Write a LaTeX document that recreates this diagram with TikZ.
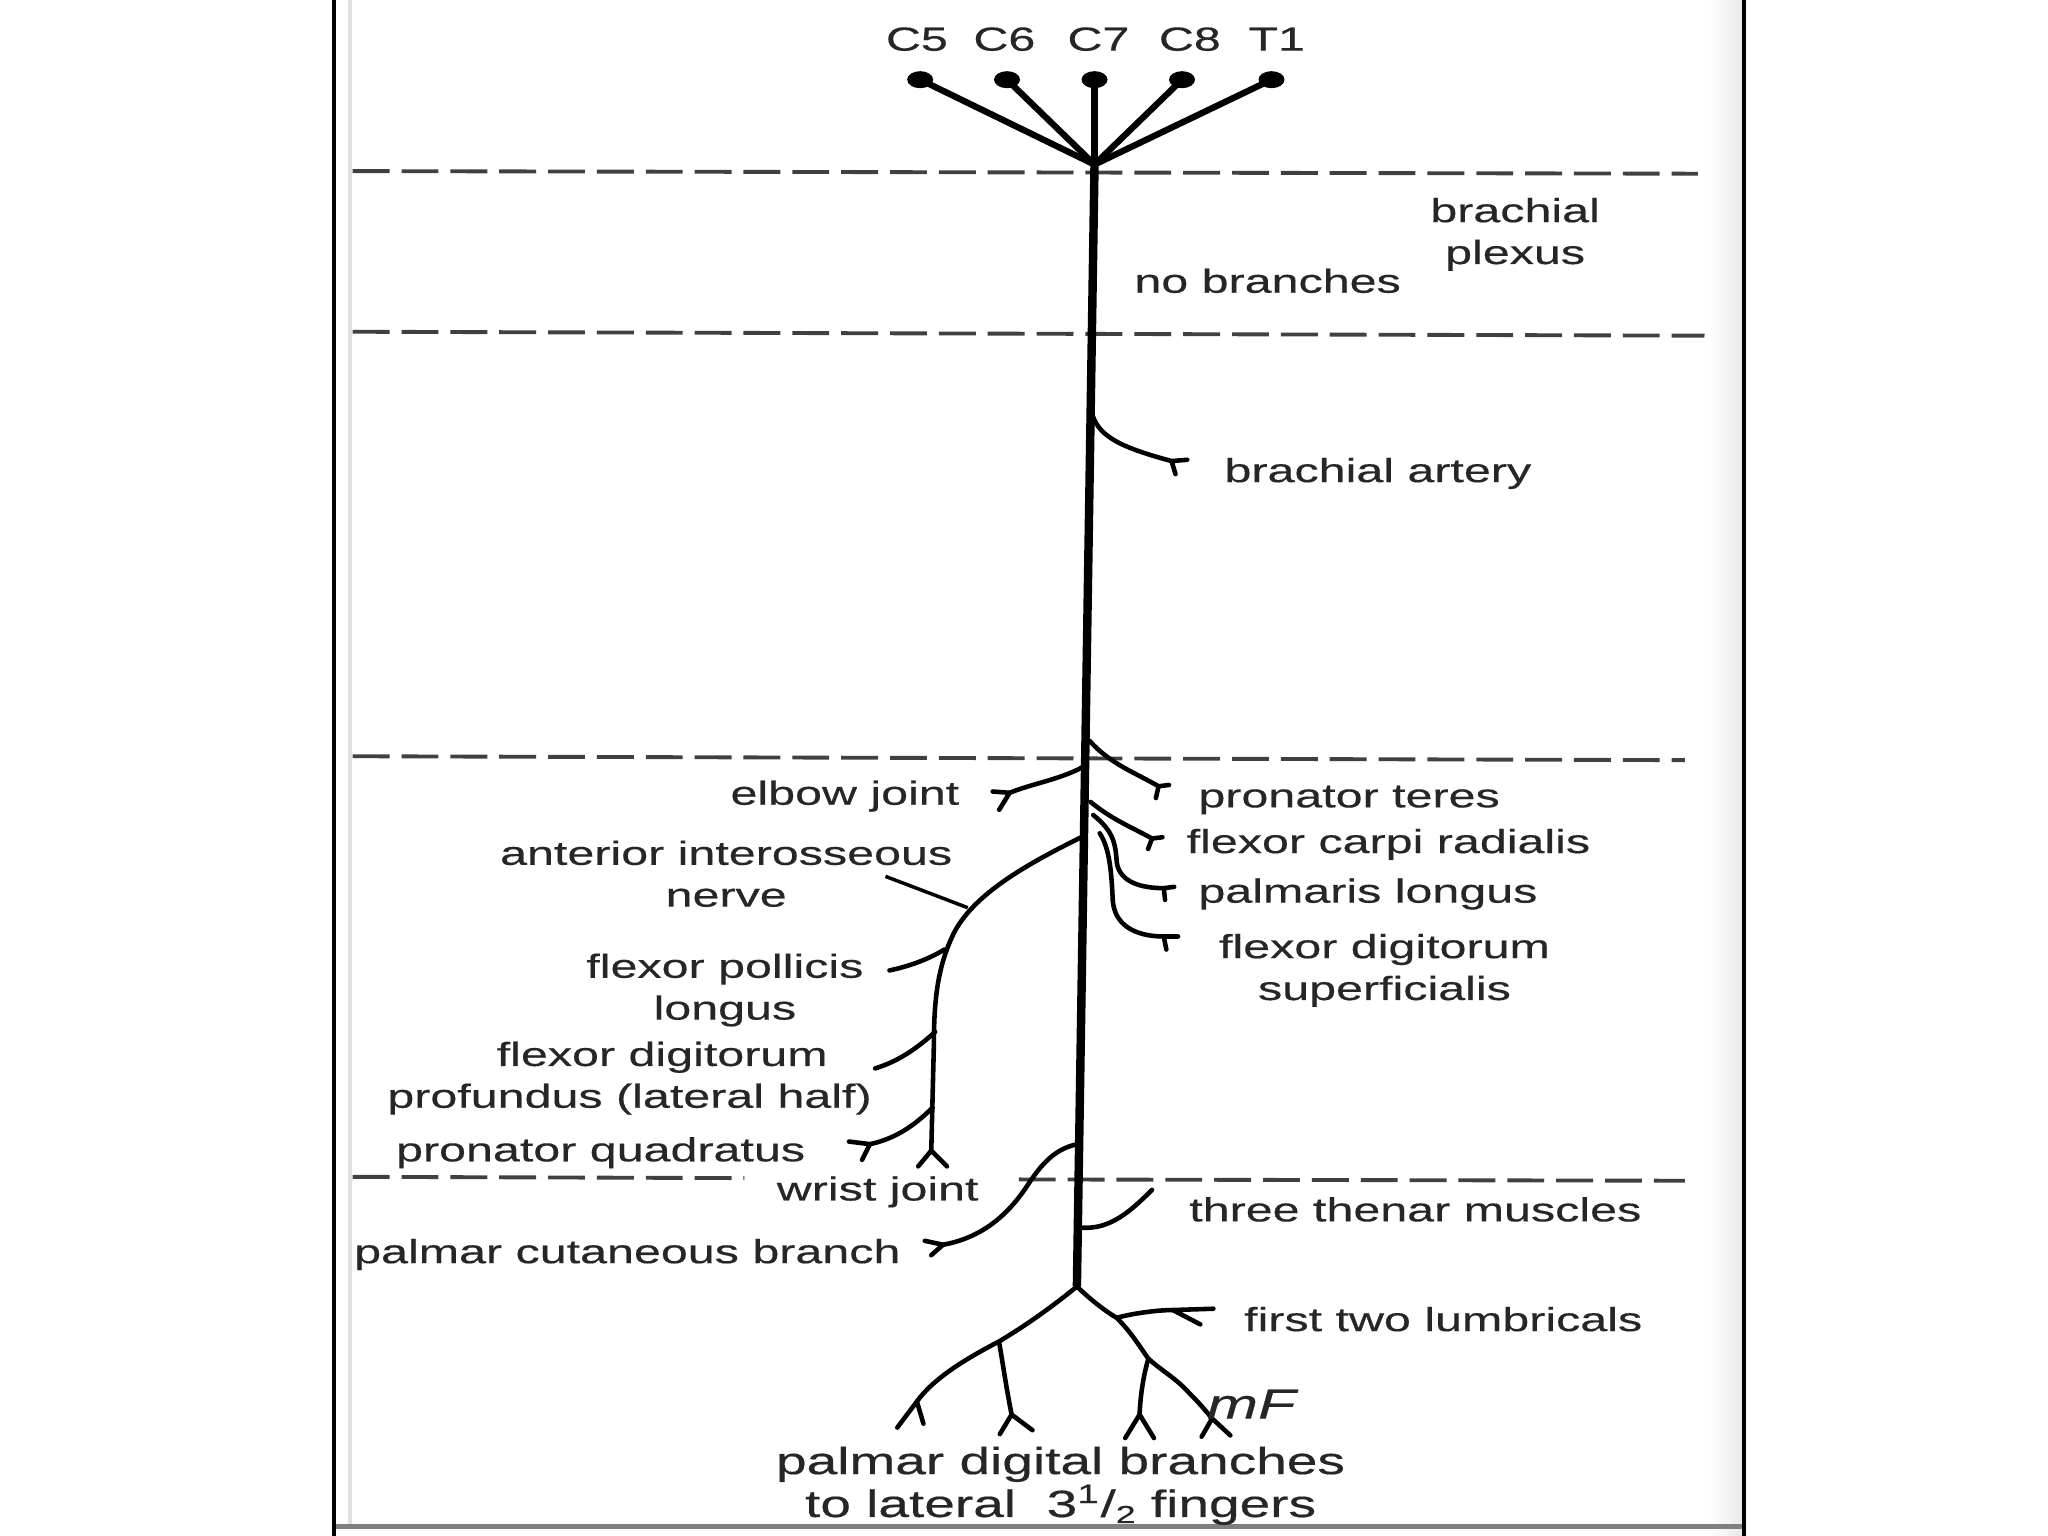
\documentclass[tikz,border=0pt]{standalone}
\usepackage{fontspec}
\setmainfont{Liberation Sans}[FakeStretch=1.45,FakeBold=0.4]
\tikzset{
  trunk/.style={line width=2.4pt},
  root/.style={line width=1.8pt},
  branch/.style={line width=1.3pt,line cap=round,line join=round},
  level/.style={draw=black!75,line width=1.1pt,dash pattern=on 10.5pt off 3.4pt},
  lbl/.style={font=\fontsize{9.5}{11.9}\selectfont,text=black!85,inner sep=0pt,align=center},
}
\newcommand{\nervefork}[3]{\draw[branch] (#1) -- ++(#2) (#1) -- ++(#3);}
\begin{document}
\begin{tikzpicture}[x=0.01306cm,y=-0.01306cm]
\useasboundingbox (0,0) rectangle (1568,1176);
% frame of the page
\shade[left color=white,right color=black!9] (1308,0) rectangle (1334.5,1176);
\draw[black!12,line width=1pt] (268,0) -- (268,1169);
\draw[black!50,line width=1.5pt] (257,1169) -- (1334,1169);
\draw[line width=0.9pt] (255.7,0) -- (255.7,1176);\draw[line width=0.9pt] (1335.3,0) -- (1335.3,1176);
% levels
\draw[level] (270,131) -- (1300,133);
\draw[level] (270,254) -- (1305,257);
\draw[level] (270,579) -- (1290,582);
\draw[level] (270,901) -- (570,902);\draw[level] (780,903) -- (1290,904);
% roots and trunk
\coordinate (top) at (838,126);\coordinate (split) at (824.5,985);
\foreach \n/\x/\lx in {C5/704.5/702,C6/771/769,C7/838/841,C8/905/911,T1/973.5/977.5}{
  \draw[root] (\x,61) -- (top);
  \fill (\x,61) ellipse [x radius=1.3mm,y radius=0.85mm];
  \node[lbl] (\n) at (\lx,30) {\n};
}
\draw[trunk] (top) -- (split);
% arm
\draw[branch] (836.5,318) .. controls (842,335) and (860,343) .. (897,353);\nervefork{897,353}{12,-1}{3,10}
% forearm, right side
\draw[branch] (834,567) .. controls (850,585) and (870,592) .. (887,602);\nervefork{887,602}{8,-1}{-2,9}
\draw[branch] (835,614) .. controls (852,628) and (868,634) .. (882,642);\nervefork{882,642}{8,-1}{-3,8}
\draw[branch] (837,624) .. controls (852,636) and (854,645) .. (855,660) .. controls (857,676) and (875,680) .. (891,680);\nervefork{891,680}{8,-1}{1,9}
\draw[branch] (842,638) .. controls (850,650) and (851,670) .. (852,690) .. controls (854,712) and (875,717) .. (891,717);\nervefork{891,717}{11,0}{2,10}
% forearm, left side
\draw[branch] (831,586) .. controls (815,596) and (790,600) .. (773,607);\nervefork{773,607}{-13,-1}{-8,13}
\coordinate (ainpt) at (741,695);
\draw[branch] (830,640) .. controls (785,662) and (745,685) .. (730,715) .. controls (718,740) and (715,765) .. (715,800) -- (713,881);\nervefork{713,881}{-10,12}{12,12}
\draw[branch] (723,727) .. controls (710,735) and (695,740) .. (681,743);
\draw[branch] (716,790) .. controls (705,800) and (690,812) .. (670,818);
\draw[branch] (714,848) .. controls (700,862) and (685,872) .. (666,876);\nervefork{666,876}{-16,-2}{-6,12}
% wrist and hand
\draw[branch] (825,876) .. controls (805,880) and (795,895) .. (785,910) .. controls (770,932) and (750,948) .. (722,953);\nervefork{722,953}{-14,-3}{-9,8}
\draw[branch] (829,940) .. controls (850,941) and (865,928) .. (882,911);
\draw[branch] (split) .. controls (800,1005) and (780,1018) .. (765,1027) .. controls (740,1040) and (715,1055) .. (702,1073) -- (687,1093);
\draw[branch] (702,1073) -- (707,1090);
\draw[branch] (765,1028) .. controls (768,1045) and (770,1060) .. (774.5,1083);\nervefork{774.5,1083}{-9,15}{16,12}
\draw[branch] (split) .. controls (835,995) and (845,1003) .. (855,1009) .. controls (866,1020) and (872,1030) .. (879,1040) .. controls (890,1050) and (900,1055) .. (910,1066) .. controls (918,1074) and (923,1080) .. (928,1086);\nervefork{928,1086}{-8,14}{14,13}
\draw[branch] (879,1041) .. controls (875,1055) and (873,1070) .. (872.5,1083);\nervefork{872.5,1083}{-11,18}{11,18}
\draw[branch] (855,1009) .. controls (865,1006) and (885,1003) .. (898,1003);\nervefork{898,1003}{31,-1}{21,11}
\node[lbl,font=\fontsize{12}{12}\selectfont\itshape] (sign) at (958,1075) {mF};
% labels
\node[lbl] (plexus) at (1160,179.5) {brachial\\plexus};
\node[lbl,anchor=mid west] (nobr) at (868,217) {no branches};
\node[lbl,anchor=mid west] (artery) at (937,362) {brachial artery};
\node[lbl,anchor=mid east] (elbow) at (735,609) {elbow joint};
\node[lbl,anchor=mid west] (pt) at (917,611) {pronator teres};
\node[lbl] (ain) at (556,669) {anterior interosseous\\nerve};
\draw[line width=1pt] (678,671) -- (ainpt);
\node[lbl,anchor=mid west] (fcr) at (908,646) {flexor carpi radialis};
\node[lbl,anchor=mid west] (pl) at (917,684) {palmaris longus};
\node[lbl] (fds) at (1060,743) {flexor digitorum\\superficialis};
\node[lbl] (fpl) at (555,758) {flexor pollicis\\longus};
\node[lbl,anchor=mid] (fdp) at (507,809) {flexor digitorum};
\node[lbl,anchor=mid] (fdplat) at (482,841) {profundus (lateral half)};
\node[lbl,anchor=mid east] (pq) at (617,882) {pronator quadratus};
\node[lbl,anchor=mid] (wrist) at (672,912) {wrist joint};
\node[lbl,anchor=mid east] (pcb) at (690,960) {palmar cutaneous branch};
\node[lbl,anchor=mid west] (thenar) at (910,928) {three thenar muscles};
\node[lbl,anchor=mid west] (lumb) at (952,1012) {first two lumbricals};
\node[lbl,font=\fontsize{10.8}{12.2}\selectfont] (digital) at (812,1137.5) {palmar digital branches\\to lateral\ \ 3\textsuperscript{1}/\raisebox{-0.3ex}{\scriptsize 2} fingers};
\end{tikzpicture}
\end{document}
